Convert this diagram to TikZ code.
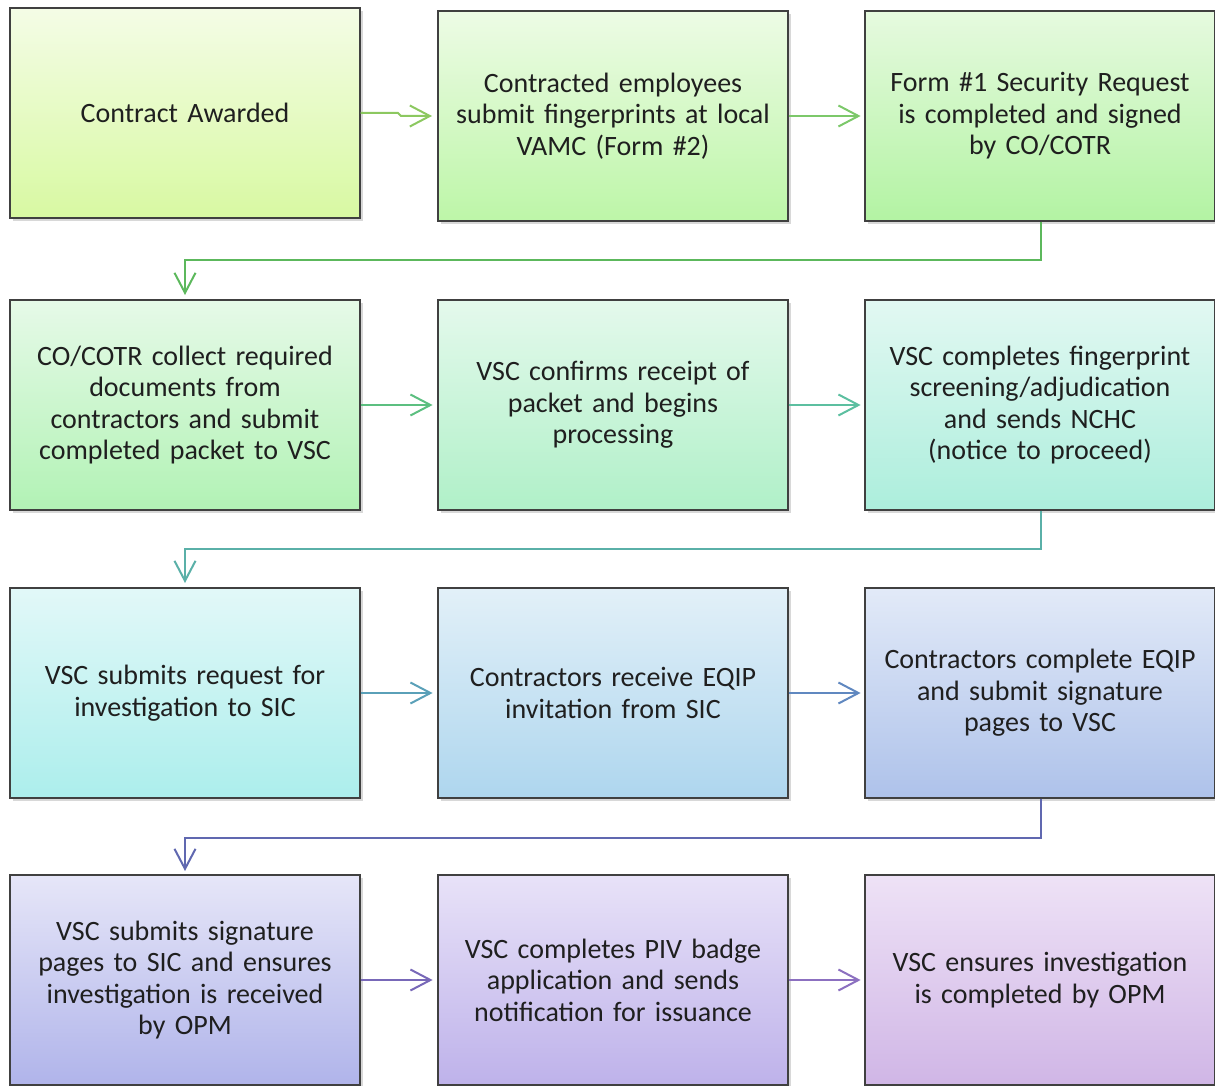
\documentclass[tikz,border=0pt]{standalone}
\usepackage{fontspec}
\setmainfont{Carlito}
\usetikzlibrary{arrows.meta,shadows}
\begin{document}
\begin{tikzpicture}[x=0.5pt,y=-0.5pt,
  box/.style={draw=black!75, line width=0.6pt, minimum width=175pt, minimum height=105pt,
    inner sep=0pt, text width=172pt, align=center, text=black!88,
    font=\fontsize{14pt}{15.8pt}\selectfont,
    drop shadow={shadow xshift=1.6pt, shadow yshift=-1.6pt, fill=black!30, opacity=0.5}},
  conn/.style={line width=1pt, -{Straight Barb[length=10pt, width=10.5pt, line width=1pt]}}]
\useasboundingbox (0,0) rectangle (1215,1086);
\definecolor{c1t}{HTML}{F4FCE6}\definecolor{c1b}{HTML}{D8F9A2}
\definecolor{c2t}{HTML}{EDFBE5}\definecolor{c2b}{HTML}{BDF6A8}
\definecolor{c3t}{HTML}{E6FADF}\definecolor{c3b}{HTML}{B3F3A3}
\definecolor{c4t}{HTML}{E6FAE8}\definecolor{c4b}{HTML}{B2F2B5}
\definecolor{c5t}{HTML}{E4F9EC}\definecolor{c5b}{HTML}{B0F0C8}
\definecolor{c6t}{HTML}{E2F8F2}\definecolor{c6b}{HTML}{ACEEDC}
\definecolor{c7t}{HTML}{E2F8F8}\definecolor{c7b}{HTML}{ACEEEC}
\definecolor{c8t}{HTML}{E2F0F8}\definecolor{c8b}{HTML}{AED6EE}
\definecolor{c9t}{HTML}{E2EAF8}\definecolor{c9b}{HTML}{AEC2EA}
\definecolor{c10t}{HTML}{E6E6F8}\definecolor{c10b}{HTML}{B0B4EA}
\definecolor{c11t}{HTML}{E8E2F8}\definecolor{c11b}{HTML}{BEB2EA}
\definecolor{c12t}{HTML}{EEE2F6}\definecolor{c12b}{HTML}{D0B6E6}
\definecolor{l1}{HTML}{8CC860}\definecolor{l2}{HTML}{7CC86A}
\definecolor{l3}{HTML}{5CB85C}
\definecolor{l4}{HTML}{5CBF80}\definecolor{l5}{HTML}{5CBFA0}
\definecolor{l6}{HTML}{5AB0A8}
\definecolor{l7}{HTML}{5AA0B8}\definecolor{l8}{HTML}{6088C0}
\definecolor{l9}{HTML}{6068B0}
\definecolor{l10}{HTML}{7868B8}\definecolor{l11}{HTML}{8C70C0}

\node[box, top color=c1t, bottom color=c1b] (a1) at (185,113) {Contract Awarded};
\node[box, top color=c2t, bottom color=c2b] (a2) at (613,116) {Contracted employees\\submit fingerprints at local\\VAMC (Form \#2)};
\node[box, top color=c3t, bottom color=c3b] (a3) at (1040,116) {Form \#1 Security Request\\is completed and signed\\by CO/COTR};

\node[box, top color=c4t, bottom color=c4b] (a4) at (185,405) {CO/COTR collect required\\documents from\\contractors and submit\\completed packet to VSC};
\node[box, top color=c5t, bottom color=c5b] (a5) at (613,405) {VSC confirms receipt of\\packet and begins\\processing};
\node[box, top color=c6t, bottom color=c6b] (a6) at (1040,405) {VSC completes fingerprint\\screening/adjudication\\and sends NCHC\\(notice to proceed)};

\node[box, top color=c7t, bottom color=c7b] (a7) at (185,693) {VSC submits request for\\investigation to SIC};
\node[box, top color=c8t, bottom color=c8b] (a8) at (613,693) {Contractors receive EQIP\\invitation from SIC};
\node[box, top color=c9t, bottom color=c9b] (a9) at (1040,693) {Contractors complete EQIP\\and submit signature\\pages to VSC};

\node[box, top color=c10t, bottom color=c10b] (a10) at (185,980) {VSC submits signature\\pages to SIC and ensures\\investigation is received\\by OPM};
\node[box, top color=c11t, bottom color=c11b] (a11) at (613,980) {VSC completes PIV badge\\application and sends\\notification for issuance};
\node[box, top color=c12t, bottom color=c12b] (a12) at (1040,980) {VSC ensures investigation\\is completed by OPM};

\coordinate (j1) at (398,113);
\coordinate (j2) at (401,116);
\coordinate (t1) at (432,116);
\draw[conn, draw=l1] (a1.east |- j1) -- (j1) -- (j2) -- (t1);
\draw[conn, draw=l2] (a2.east) -- ++(72,0);

\coordinate (d1) at (1041,260);
\coordinate (d1b) at (185,260);
\draw[conn, draw=l3] (a3.south -| d1) -- (d1) -- (d1b) -- ++(0,35);

\draw[conn, draw=l4] (a4.east) -- ++(72,0);
\draw[conn, draw=l5] (a5.east) -- ++(72,0);

\coordinate (d2) at (1041,549);
\coordinate (d2b) at (185,549);
\draw[conn, draw=l6] (a6.south -| d2) -- (d2) -- (d2b) -- ++(0,34);

\draw[conn, draw=l7] (a7.east) -- ++(72,0);
\draw[conn, draw=l8] (a8.east) -- ++(72,0);

\coordinate (d3) at (1041,838);
\coordinate (d3b) at (185,838);
\draw[conn, draw=l9] (a9.south -| d3) -- (d3) -- (d3b) -- ++(0,33);

\draw[conn, draw=l10] (a10.east) -- ++(72,0);
\draw[conn, draw=l11] (a11.east) -- ++(72,0);
\end{tikzpicture}
\end{document}
